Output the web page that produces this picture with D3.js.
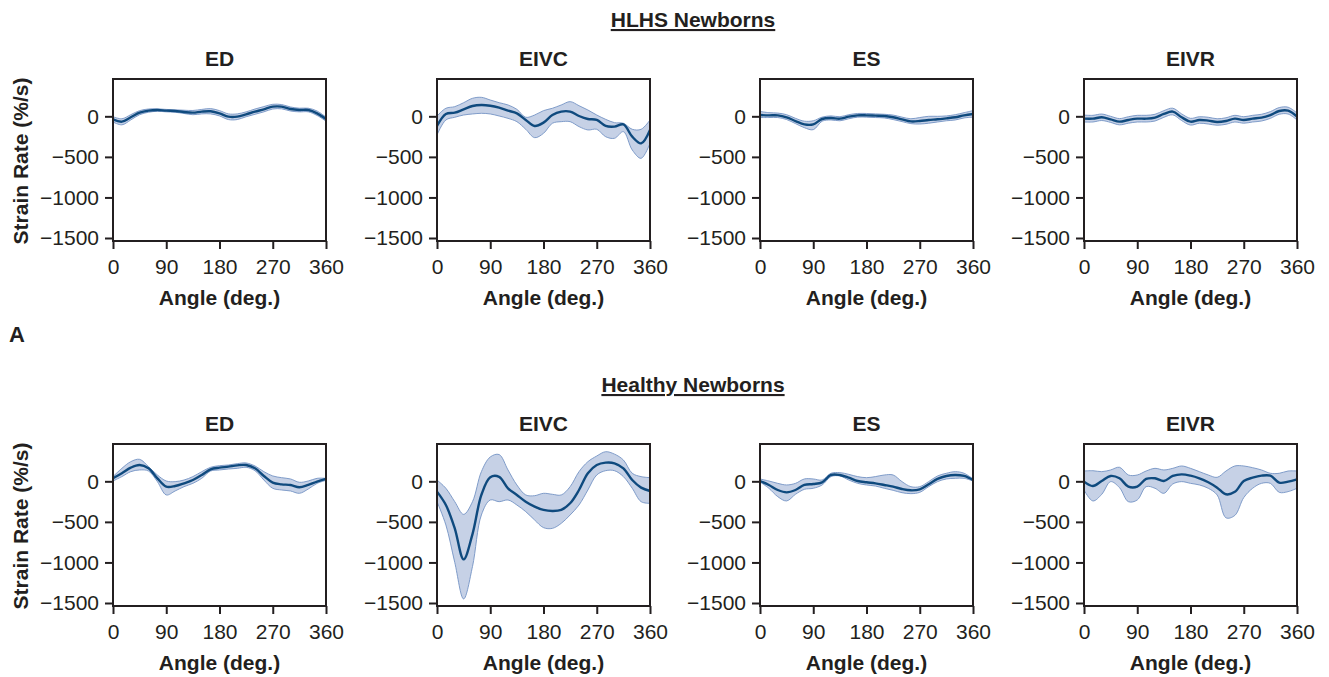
<!DOCTYPE html>
<html>
<head>
<meta charset="utf-8">
<script src="https://cdn.jsdelivr.net/npm/d3@7"></script>
<style>
  html, body { margin: 0; padding: 0; background: #fff; }
  svg { display: block; font-family: "Liberation Sans", Arial, Helvetica, sans-serif; }
</style>
</head>
<body>
<svg id="chart" width="1329" height="677"></svg>
<script>
// Circumferential strain rate (%/s) sampled every 15 degrees around the ventricle
const angles = [0, 15, 30, 45, 60, 75, 90, 105, 120, 135, 150, 165, 180,
                195, 210, 225, 240, 255, 270, 285, 300, 315, 330, 345, 360];
const phases = ["ED", "EIVC", "ES", "EIVR"];
const groupTitles = ["HLHS Newborns", "Healthy Newborns"];
const xTicks = [0, 90, 180, 270, 360];
const yTicks = [0, -500, -1000, -1500];

// HLHS newborns
const hlhsEDMean  = [-37, -66, -12, 45, 70, 78, 70, 66, 53, 45, 58, 62, 37, -4, -4, 25, 58, 86, 119, 119, 90, 78, 78, 37, -33];
const hlhsEDHigh  = [-5, -30, 20, 70, 90, 92, 85, 80, 75, 72, 85, 95, 70, 30, 30, 55, 90, 120, 148, 145, 115, 100, 100, 65, -10];
const hlhsEDLow   = [-70, -105, -45, 20, 50, 62, 55, 50, 35, 20, 30, 30, 5, -40, -40, -5, 25, 55, 90, 92, 65, 55, 55, 10, -60];

const hlhsEIVCMean = [-119, 29, 45, 86, 127, 140, 131, 107, 70, 37, -45, -119, -78, 16, 58, 58, 4, -33, -45, -119, -127, -99, -251, -333, -168];
const hlhsEIVCHigh = [4, 99, 119, 168, 222, 234, 201, 168, 140, 86, -12, 16, 70, 99, 140, 181, 131, 78, 16, -37, -78, -86, -160, -160, -45];
const hlhsEIVCLow  = [-230, -45, -12, 16, 29, 37, 29, 4, -25, -66, -160, -263, -210, -86, -66, -66, -127, -168, -160, -251, -271, -189, -415, -518, -333];

const hlhsESMean = [16, 12, 12, -12, -58, -99, -99, -33, -21, -29, -4, 12, 12, 8, 4, -12, -37, -62, -58, -45, -37, -25, -12, 12, 29];
const hlhsESHigh = [60, 45, 40, 20, -25, -60, -55, -10, 5, -5, 20, 35, 35, 30, 25, 15, -10, -30, -15, 0, 0, 5, 20, 45, 70];
const hlhsESLow  = [-15, -15, -15, -40, -90, -140, -165, -60, -45, -55, -30, -10, -10, -15, -20, -40, -65, -90, -95, -85, -70, -55, -45, -20, -10];

const hlhsEIVRMean = [-29, -29, -12, -37, -66, -45, -29, -29, -16, 29, 58, -12, -66, -45, -53, -70, -58, -29, -45, -29, -16, 16, 66, 70, -4];
const hlhsEIVRHigh = [15, 12, 28, 0, -28, -5, 12, 12, 25, 70, 100, 30, -25, -5, -12, -30, -18, 12, -5, 12, 25, 58, 108, 112, 40];
const hlhsEIVRLow  = [-70, -70, -52, -75, -105, -85, -70, -70, -58, -12, 18, -52, -108, -85, -95, -110, -98, -70, -85, -70, -58, -25, 25, 28, -45];

// Healthy newborns
const healthyEDMean = [37, 99, 168, 201, 160, 37, -66, -58, -25, 16, 78, 148, 168, 181, 197, 201, 160, 66, -16, -37, -45, -74, -45, -4, 29];
const healthyEDHigh = [58, 160, 242, 271, 181, 78, 4, -4, 16, 58, 119, 173, 193, 201, 218, 226, 189, 119, 66, 45, 29, -12, 4, 37, 37];
const healthyEDLow  = [4, 58, 119, 140, 127, -4, -168, -119, -66, -25, 37, 127, 140, 152, 160, 173, 131, 16, -86, -107, -119, -148, -95, -25, 12];

const healthyEIVCMean = [-127, -292, -580, -962, -650, -168, 50, 55, -86, -168, -251, -312, -353, -366, -353, -271, -107, 99, 201, 230, 222, 160, 16, -78, -119];
const healthyEIVCHigh = [16, -86, -251, -407, -251, 119, 300, 330, 140, -45, -168, -177, -148, -160, -168, -66, 119, 242, 312, 365, 335, 263, 99, 58, 45];
const healthyEIVCLow  = [-251, -538, -1000, -1450, -1050, -415, -230, -251, -230, -292, -374, -477, -571, -580, -518, -415, -292, -107, 78, 131, 131, 58, -86, -251, -271];

const healthyESMean = [4, -45, -107, -136, -107, -45, -33, -12, 78, 78, 45, 4, -12, -25, -45, -66, -95, -111, -99, -37, 29, 66, 78, 66, 16];
const healthyESHigh = [29, 4, -25, -45, -25, 29, 29, 16, 99, 107, 86, 58, 45, 58, 78, 78, -4, -66, -66, -4, 66, 99, 119, 99, 29];
const healthyESLow  = [-8, -86, -189, -242, -160, -99, -86, -45, 58, 66, 16, -25, -45, -58, -86, -111, -140, -152, -136, -66, -4, 29, 37, 37, 4];

const healthyEIVRMean = [-4, -58, 4, 66, 37, -66, -66, 29, 37, 4, 66, 86, 70, 37, -12, -78, -160, -130, 4, 45, 70, 70, -16, -4, 25];
const healthyEIVRHigh = [127, 131, 119, 140, 173, 78, 78, 127, 160, 140, 160, 189, 160, 119, 78, 49, 127, 189, 189, 168, 140, 99, 99, 127, 127];
const healthyEIVRLow  = [-107, -242, -160, -4, -78, -251, -230, -66, -86, -148, -33, -4, -25, -45, -86, -168, -450, -420, -201, -86, -25, -25, -136, -127, -86];

const panels = [
  [
    { phase: "ED",   mean: hlhsEDMean,   low: hlhsEDLow,   high: hlhsEDHigh },
    { phase: "EIVC", mean: hlhsEIVCMean, low: hlhsEIVCLow, high: hlhsEIVCHigh },
    { phase: "ES",   mean: hlhsESMean,   low: hlhsESLow,   high: hlhsESHigh },
    { phase: "EIVR", mean: hlhsEIVRMean, low: hlhsEIVRLow, high: hlhsEIVRHigh }
  ],
  [
    { phase: "ED",   mean: healthyEDMean,   low: healthyEDLow,   high: healthyEDHigh },
    { phase: "EIVC", mean: healthyEIVCMean, low: healthyEIVCLow, high: healthyEIVCHigh },
    { phase: "ES",   mean: healthyESMean,   low: healthyESLow,   high: healthyESHigh },
    { phase: "EIVR", mean: healthyEIVRMean, low: healthyEIVRLow, high: healthyEIVRHigh }
  ]
];

// Layout
const colLeft = [113, 437, 760, 1084];
const plotW = 213;
const rowTop = [79, 444];
const plotH = 162;
const yDomain = [-1537, 460];

const lineColor = "#0f4a7e";
const bandFill = "#c6d1e6";
const bandEdge = "#7493c4";
const ink = "#231f20";

const svg = d3.select("#chart");
const fontSize = 21;

groupTitles.forEach((title, r) => {
  svg.append("text")
    .attr("x", 693)
    .attr("y", rowTop[r] - 52)
    .attr("text-anchor", "middle")
    .attr("font-size", fontSize)
    .attr("font-weight", "bold")
    .attr("fill", ink)
    .attr("text-decoration", "underline")
    .text(title);
});

// Panel letter
svg.append("text")
  .attr("x", 9).attr("y", 342)
  .attr("font-size", 22).attr("font-weight", "bold").attr("fill", ink)
  .text("A");

panels.forEach((row, r) => {
  // shared y-axis label for the row
  svg.append("text")
    .attr("transform", `translate(28,${rowTop[r] + 82}) rotate(-90)`)
    .attr("text-anchor", "middle")
    .attr("font-size", fontSize)
    .attr("font-weight", "bold")
    .attr("fill", ink)
    .text("Strain Rate (%/s)");

  row.forEach((p, c) => {
    const x = d3.scaleLinear().domain([0, 360]).range([colLeft[c], colLeft[c] + plotW]);
    const y = d3.scaleLinear().domain(yDomain).range([rowTop[r] + plotH, rowTop[r]]);
    const g = svg.append("g");

    const pts = angles.map((a, i) => ({ a, m: p.mean[i], lo: p.low[i], hi: p.high[i] }));
    const curve = d3.curveCatmullRom.alpha(0.5);

    g.append("path")
      .datum(pts)
      .attr("fill", bandFill)
      .attr("d", d3.area().x(d => x(d.a)).y0(d => y(d.lo)).y1(d => y(d.hi)).curve(curve));
    [d => d.lo, d => d.hi].forEach(acc => {
      g.append("path")
        .datum(pts)
        .attr("fill", "none")
        .attr("stroke", bandEdge)
        .attr("stroke-width", 0.9)
        .attr("d", d3.line().x(d => x(d.a)).y(d => y(acc(d))).curve(curve));
    });
    g.append("path")
      .datum(pts)
      .attr("fill", "none")
      .attr("stroke", lineColor)
      .attr("stroke-width", 2.4)
      .attr("d", d3.line().x(d => x(d.a)).y(d => y(d.m)).curve(curve));

    // axes
    const xAxis = d3.axisBottom(x).tickValues(xTicks).tickSize(8).tickPadding(10).tickFormat(d3.format("d"));
    const yAxis = d3.axisLeft(y).tickValues(yTicks).tickSize(8).tickPadding(6).tickFormat(d3.format("d"));
    const gx = g.append("g").attr("transform", `translate(0,${rowTop[r] + plotH})`).call(xAxis);
    const gy = g.append("g").attr("transform", `translate(${colLeft[c]},0)`).call(yAxis);
    [gx, gy].forEach(ax => {
      ax.select(".domain").remove();
      ax.selectAll(".tick line").attr("stroke", ink).attr("stroke-width", 2);
      ax.selectAll(".tick text").attr("fill", ink).attr("font-size", fontSize)
        .attr("font-family", "'Liberation Sans', Arial, Helvetica, sans-serif");
    });

    // frame
    g.append("rect")
      .attr("x", colLeft[c]).attr("y", rowTop[r])
      .attr("width", plotW).attr("height", plotH)
      .attr("fill", "none").attr("stroke", ink).attr("stroke-width", 2);

    // titles
    g.append("text")
      .attr("x", colLeft[c] + plotW / 2)
      .attr("y", rowTop[r] - 13)
      .attr("text-anchor", "middle")
      .attr("font-size", fontSize).attr("font-weight", "bold").attr("fill", ink)
      .text(p.phase);
    g.append("text")
      .attr("x", colLeft[c] + plotW / 2)
      .attr("y", rowTop[r] + plotH + 64)
      .attr("text-anchor", "middle")
      .attr("font-size", fontSize).attr("font-weight", "bold").attr("fill", ink)
      .text("Angle (deg.)");
  });
});
</script>
</body>
</html>
